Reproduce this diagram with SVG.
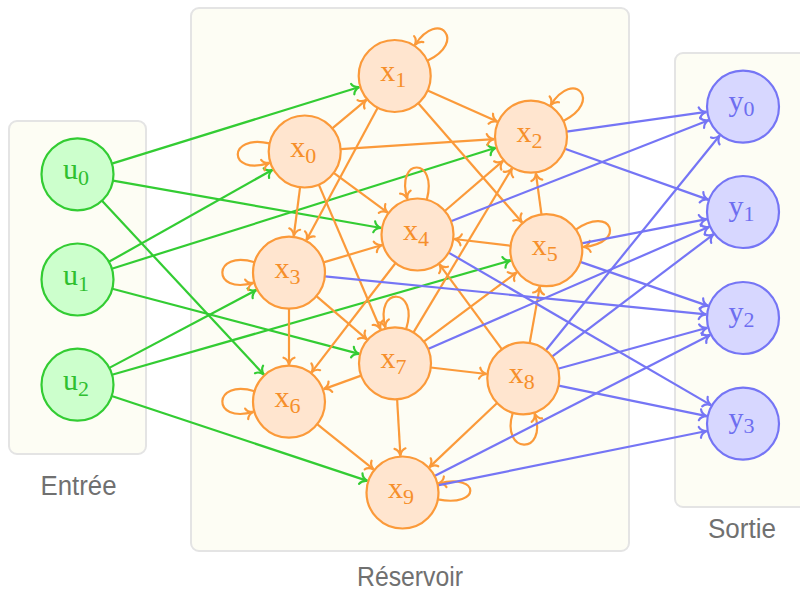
<svg xmlns="http://www.w3.org/2000/svg" width="800" height="592" viewBox="0 0 800 592">
<defs>
<marker id="ag" viewBox="-9 -7 11 14" refX="0" refY="0" markerWidth="11" markerHeight="14" markerUnits="userSpaceOnUse" orient="auto" overflow="visible"><path d="M-7,-5.5 C-6,-2.2 -2.7,-0.6 0,0 C-2.7,0.6 -6,2.2 -7,5.5" fill="none" stroke="#33cc33" stroke-width="2.2" stroke-linecap="round"/></marker>
<marker id="ao" viewBox="-9 -7 11 14" refX="0" refY="0" markerWidth="11" markerHeight="14" markerUnits="userSpaceOnUse" orient="auto" overflow="visible"><path d="M-7,-5.5 C-6,-2.2 -2.7,-0.6 0,0 C-2.7,0.6 -6,2.2 -7,5.5" fill="none" stroke="#fb9a3a" stroke-width="2.2" stroke-linecap="round"/></marker>
<marker id="ab" viewBox="-9 -7 11 14" refX="0" refY="0" markerWidth="11" markerHeight="14" markerUnits="userSpaceOnUse" orient="auto" overflow="visible"><path d="M-7,-5.5 C-6,-2.2 -2.7,-0.6 0,0 C-2.7,0.6 -6,2.2 -7,5.5" fill="none" stroke="#7575f5" stroke-width="2.2" stroke-linecap="round"/></marker>
</defs>
<style>
.box{fill:#fdfdf4;stroke:#e4e4e4;stroke-width:2}
.blabel{font-family:"Liberation Sans",Arial,sans-serif;font-size:27px;fill:#707070;text-anchor:middle}
.eg{stroke:#33cc33;stroke-width:2.2;fill:none;marker-end:url(#ag)}
.eo{stroke:#fb9a3a;stroke-width:2.2;fill:none;marker-end:url(#ao)}
.eb{stroke:#7575f5;stroke-width:2.2;fill:none;marker-end:url(#ab)}
.ng circle{fill:#ccffcc;stroke:#33cc33;stroke-width:2.2}
.no circle{fill:#ffe5cf;stroke:#fb9a3a;stroke-width:2.2}
.nb circle{fill:#d7d7ff;stroke:#7575f5;stroke-width:2.2}
.lab{font-family:"Liberation Serif","Times New Roman",serif;font-size:30px;text-anchor:middle}
.lab tspan{font-size:22px}
.ng text{fill:#2fc02f}
.no text{fill:#f68f2a}
.nb text{fill:#6e6ef0}
</style>
<rect width="800" height="592" fill="#ffffff"/>
<g id="boxes">
<rect class="box" x="9" y="121" width="137" height="333" rx="8"/>
<rect class="box" x="191" y="8" width="438" height="543" rx="8"/>
<rect class="box" x="675" y="53" width="140" height="454" rx="8"/>
<text class="blabel" x="78.5" y="495" textLength="76" lengthAdjust="spacingAndGlyphs">Entrée</text>
<text class="blabel" x="410" y="586" textLength="106" lengthAdjust="spacingAndGlyphs">Réservoir</text>
<text class="blabel" x="742" y="538" textLength="68" lengthAdjust="spacingAndGlyphs">Sortie</text>
</g>
<g id="connectors">
<line class="eg" x1="111.9" y1="163.6" x2="359.4" y2="87.0"/>
<line class="eg" x1="113.0" y1="180.6" x2="381.1" y2="228.0"/>
<line class="eg" x1="102.0" y1="200.7" x2="263.8" y2="374.6"/>
<line class="eg" x1="108.9" y1="261.8" x2="272.5" y2="169.7"/>
<line class="eg" x1="111.8" y1="268.7" x2="495.7" y2="147.8"/>
<line class="eg" x1="112.3" y1="288.7" x2="359.2" y2="353.9"/>
<line class="eg" x1="109.3" y1="367.9" x2="256.3" y2="290.0"/>
<line class="eg" x1="112.1" y1="374.8" x2="510.7" y2="260.4"/>
<line class="eg" x1="111.7" y1="396.0" x2="367.4" y2="480.9"/>

<line class="eo" x1="332.3" y1="128.4" x2="366.4" y2="99.8"/>
<line class="eo" x1="340.6" y1="149.1" x2="494.1" y2="139.1"/>
<line class="eo" x1="333.7" y1="172.8" x2="387.7" y2="212.6"/>
<line class="eo" x1="300.1" y1="187.2" x2="293.8" y2="236.0"/>
<line class="eo" x1="318.8" y1="184.6" x2="380.5" y2="329.3"/>
<line class="eo" x1="427.6" y1="90.6" x2="497.2" y2="121.6"/>
<line class="eo" x1="418.3" y1="103.2" x2="522.0" y2="222.3"/>
<line class="eo" x1="377.7" y1="107.7" x2="306.5" y2="240.1"/>
<line class="eo" x1="444.8" y1="211.0" x2="503.0" y2="160.9"/>
<line class="eo" x1="413.5" y1="332.4" x2="512.0" y2="168.4"/>
<line class="eo" x1="541.5" y1="214.5" x2="535.9" y2="173.4"/>
<line class="eo" x1="510.6" y1="245.8" x2="454.2" y2="239.0"/>
<line class="eo" x1="323.5" y1="262.4" x2="382.0" y2="245.0"/>
<line class="eo" x1="316.4" y1="296.1" x2="366.9" y2="339.3"/>
<line class="eo" x1="289" y1="308.7" x2="289" y2="364.7"/>
<line class="eo" x1="395.6" y1="263.0" x2="311.5" y2="372.4"/>
<line class="eo" x1="317.1" y1="424.2" x2="373.6" y2="469.4"/>
<line class="eo" x1="361.1" y1="375.6" x2="323.8" y2="389.1"/>
<line class="eo" x1="397.1" y1="399.2" x2="400.4" y2="455.6"/>
<line class="eo" x1="430.7" y1="367.5" x2="486.6" y2="374.0"/>
<line class="eo" x1="423.8" y1="341.7" x2="516.7" y2="272.4"/>
<line class="eo" x1="502.0" y1="349.3" x2="439.4" y2="264.3"/>
<line class="eo" x1="529.7" y1="342.9" x2="539.8" y2="286.6"/>
<line class="eo" x1="497.1" y1="403.0" x2="429.4" y2="467.1"/>

<path class="eo" d="M269.6,143.4 C226.7,133.5 227.7,176.5 269.5,162.9"/>
<path class="eo" d="M427.3,60.8 C467.2,42.2 438.9,8.1 414.9,45.0"/>
<path class="eo" d="M563.4,120.9 C602.9,101.6 573.9,68.0 550.6,105.3"/>
<path class="eo" d="M254.6,262.2 C212.5,249.3 211.1,295.0 253.4,282.9"/>
<path class="eo" d="M426.8,199.7 C438.2,157.2 395.2,156.6 407.3,198.9"/>
<path class="eo" d="M575.8,229.6 C611.8,204.4 627.0,243.2 583.2,247.0"/>
<path class="eo" d="M254.6,391.2 C212.5,378.3 211.1,424.0 253.4,411.9"/>
<path class="eo" d="M406.1,329.1 C419.7,287.3 374.0,285.1 385.4,327.6"/>
<path class="eo" d="M512.8,412.7 C499.9,454.8 548.3,455.3 534.7,413.5"/>
<path class="eo" d="M437.8,499.4 C481.0,507.8 481.1,472.9 438.4,483.5"/>

<line class="eb" x1="566.6" y1="131.7" x2="706.4" y2="111.9"/>
<line class="eb" x1="564.9" y1="148.7" x2="708.1" y2="199.6"/>
<line class="eb" x1="451.0" y1="221.3" x2="708.6" y2="120.2"/>
<line class="eb" x1="448.6" y1="252.6" x2="711.0" y2="405.1"/>
<line class="eb" x1="581.6" y1="243.3" x2="706.7" y2="219.1"/>
<line class="eb" x1="580.3" y1="261.9" x2="708.0" y2="305.9"/>
<line class="eb" x1="324.8" y1="276.3" x2="706.2" y2="314.3"/>
<line class="eb" x1="428.0" y1="348.9" x2="709.1" y2="226.8"/>
<line class="eb" x1="545.9" y1="350.3" x2="719.7" y2="135.5"/>
<line class="eb" x1="552.0" y1="356.6" x2="713.5" y2="234.3"/>
<line class="eb" x1="558.0" y1="368.8" x2="707.3" y2="327.8"/>
<line class="eb" x1="558.6" y1="385.6" x2="706.8" y2="416.2"/>
<line class="eb" x1="434.5" y1="476.1" x2="710.1" y2="334.9"/>
<line class="eb" x1="437.8" y1="485.4" x2="706.7" y2="431.0"/>
</g>

<g id="u0" class="ng"><circle cx="77.5" cy="174.3" r="36"/><text class="lab" x="76" y="179.3">u<tspan dy="6">0</tspan></text></g>
<g id="u1" class="ng"><circle cx="77.5" cy="279.5" r="36"/><text class="lab" x="76" y="284.5">u<tspan dy="6">1</tspan></text></g>
<g id="u2" class="ng"><circle cx="77.5" cy="384.7" r="36"/><text class="lab" x="76" y="389.7">u<tspan dy="6">2</tspan></text></g>

<g id="x0" class="no"><circle cx="304.7" cy="151.5" r="36"/><text class="lab" x="303.2" y="156.5">x<tspan dy="6">0</tspan></text></g>
<g id="x1" class="no"><circle cx="394.7" cy="76" r="36"/><text class="lab" x="393.2" y="81">x<tspan dy="6">1</tspan></text></g>
<g id="x2" class="no"><circle cx="531" cy="136.7" r="36"/><text class="lab" x="529.5" y="141.7">x<tspan dy="6">2</tspan></text></g>
<g id="x3" class="no"><circle cx="289" cy="272.7" r="36"/><text class="lab" x="287.5" y="277.7">x<tspan dy="6">3</tspan></text></g>
<g id="x4" class="no"><circle cx="417.5" cy="234.5" r="36"/><text class="lab" x="416" y="239.5">x<tspan dy="6">4</tspan></text></g>
<g id="x5" class="no"><circle cx="546.3" cy="250.2" r="36"/><text class="lab" x="544.8" y="255.2">x<tspan dy="6">5</tspan></text></g>
<g id="x6" class="no"><circle cx="289" cy="401.7" r="36"/><text class="lab" x="287.5" y="406.7">x<tspan dy="6">6</tspan></text></g>
<g id="x7" class="no"><circle cx="395" cy="363.3" r="36"/><text class="lab" x="393.5" y="368.3">x<tspan dy="6">7</tspan></text></g>
<g id="x8" class="no"><circle cx="523.3" cy="378.3" r="36"/><text class="lab" x="521.8" y="383.3">x<tspan dy="6">8</tspan></text></g>
<g id="x9" class="no"><circle cx="402.5" cy="492.5" r="36"/><text class="lab" x="401" y="497.5">x<tspan dy="6">9</tspan></text></g>

<g id="y0" class="nb"><circle cx="743" cy="106.7" r="36"/><text class="lab" x="741.5" y="110.7">y<tspan dy="5">0</tspan></text></g>
<g id="y1" class="nb"><circle cx="743" cy="212" r="36"/><text class="lab" x="741.5" y="216">y<tspan dy="5">1</tspan></text></g>
<g id="y2" class="nb"><circle cx="743" cy="318" r="36"/><text class="lab" x="741.5" y="322">y<tspan dy="5">2</tspan></text></g>
<g id="y3" class="nb"><circle cx="743" cy="423.7" r="36"/><text class="lab" x="741.5" y="427.7">y<tspan dy="5">3</tspan></text></g>
</svg>
